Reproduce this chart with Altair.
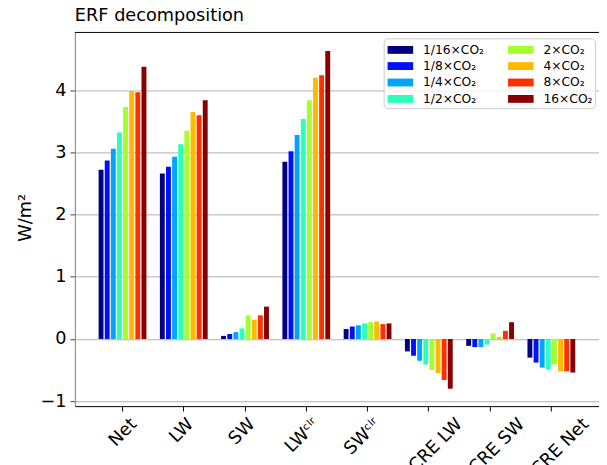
import altair as alt
import pandas as pd

categories = ["Net", "LW", "SW", "LWᶜˡʳ", "SWᶜˡʳ", "CRE LW", "CRE SW", "CRE Net"]
series = ["1/16×CO₂", "1/8×CO₂", "1/4×CO₂", "1/2×CO₂", "2×CO₂", "4×CO₂", "8×CO₂", "16×CO₂"]
colors = ["#000080", "#0010ff", "#00a4ff", "#2cffbc", "#a4ff2c", "#ffb900", "#ff3000", "#880000"]

net_vals = [2.72, 2.87, 3.06, 3.32, 3.73, 3.99, 3.97, 4.38]
lw_vals = [2.66, 2.77, 2.93, 3.13, 3.35, 3.65, 3.60, 3.84]
sw_vals = [0.05, 0.08, 0.11, 0.17, 0.38, 0.31, 0.38, 0.52]
lwclr_vals = [2.85, 3.02, 3.28, 3.54, 3.84, 4.20, 4.24, 4.63]
swclr_vals = [0.16, 0.20, 0.22, 0.25, 0.27, 0.28, 0.24, 0.25]
crelw_vals = [-0.20, -0.27, -0.35, -0.41, -0.50, -0.55, -0.66, -0.80]
cresw_vals = [-0.11, -0.13, -0.13, -0.09, 0.09, 0.03, 0.13, 0.27]
crenet_vals = [-0.30, -0.38, -0.46, -0.49, -0.41, -0.52, -0.52, -0.54]

y_ticks = [-1, 0, 1, 2, 3, 4]

all_vals = [net_vals, lw_vals, sw_vals, lwclr_vals, swclr_vals, crelw_vals, cresw_vals, crenet_vals]
rows = []
for cat, vals in zip(categories, all_vals):
    for s, v in zip(series, vals):
        rows.append({"category": cat, "series": s, "value": v})
df = pd.DataFrame(rows)

W, H = 533, 380
FONT = "DejaVu Sans"

label_offset = {
    "condition": [
        {"test": "datum.label == 'Net'", "value": 5.5},
        {"test": "datum.label == 'CRE Net'", "value": 29},
        {"test": "datum.label == 'CRE SW'", "value": 26},
        {"test": "datum.label == 'CRE LW'", "value": 25},
        {"test": "datum.label == 'LW' || datum.label == 'SW'", "value": 1},
    ],
    "value": 4,
}

bars = alt.Chart(df).mark_bar().encode(
    x=alt.X(
        "category:N",
        sort=categories,
        scale=alt.Scale(paddingInner=0.2, paddingOuter=0.3776),
        axis=alt.Axis(
            title=None, labelAngle=-45, labelAlign="right", labelBaseline="top",
            labelFontSize=18, labelPadding=4, tickSize=5, tickColor="black",
            domainColor="black", labelColor="black", grid=False, labelOverlap=False,
            labelOffset=label_offset,
        ),
    ),
    xOffset=alt.XOffset("series:N", sort=series, scale=alt.Scale(paddingInner=0.2, paddingOuter=0.1)),
    y=alt.Y(
        "value:Q",
        scale=alt.Scale(domain=[-1.08, 4.93], nice=False, zero=False),
        axis=alt.Axis(
            title="W/m²", values=y_ticks, grid=True, gridColor="#b0b0b0", gridWidth=1,
            domainColor="#808080", tickColor="#444444", tickSize=5, labelFontSize=18,
            labelPadding=4, labelColor="black", titleFontSize=18, titleFontWeight="normal",
            titleColor="black", titleAngle=-90, titleX=-45, titleY=188,
            titleBaseline="alphabetic", titleAlign="center",
        ),
    ),
    color=alt.Color(
        "series:N", sort=series,
        scale=alt.Scale(domain=series, range=colors),
        legend=alt.Legend(
            title=None, orient="none", legendX=314, legendY=6, columns=2,
            symbolType="M-1.444,-0.444H1.444V0.444H-1.444Z", symbolSize=324,
            symbolStrokeWidth=0, symbolOpacity=1, labelFontSize=12.5, labelFont=FONT,
            labelColor="black", padding=2.5, rowPadding=0.7, columnPadding=22.5,
            symbolOffset=5.5, labelOffset=14, fillColor="rgba(255,255,255,0.8)",
            strokeColor="#cccccc", cornerRadius=4,
        ),
    ),
)

top_spine = alt.Chart(pd.DataFrame({"a": [0]})).mark_rule(color="black", strokeWidth=1).encode(
    y=alt.value(0), x=alt.value(0), x2=alt.value(W)
)

chart = alt.layer(bars, top_spine).properties(
    width=W, height=H,
    title=alt.TitleParams("ERF decomposition", anchor="start", fontSize=18, font=FONT,
                          fontWeight="normal", offset=7, frame="group", color="black"),
    autosize=alt.AutoSizeParams(type="none"),
    padding={"left": 68, "top": 21, "right": 0, "bottom": 56},
).configure(font=FONT).configure_view(stroke=None).configure_axis(labelFont=FONT, titleFont=FONT)

chart.save("out.html", embed_options={"renderer": "svg", "actions": False})
